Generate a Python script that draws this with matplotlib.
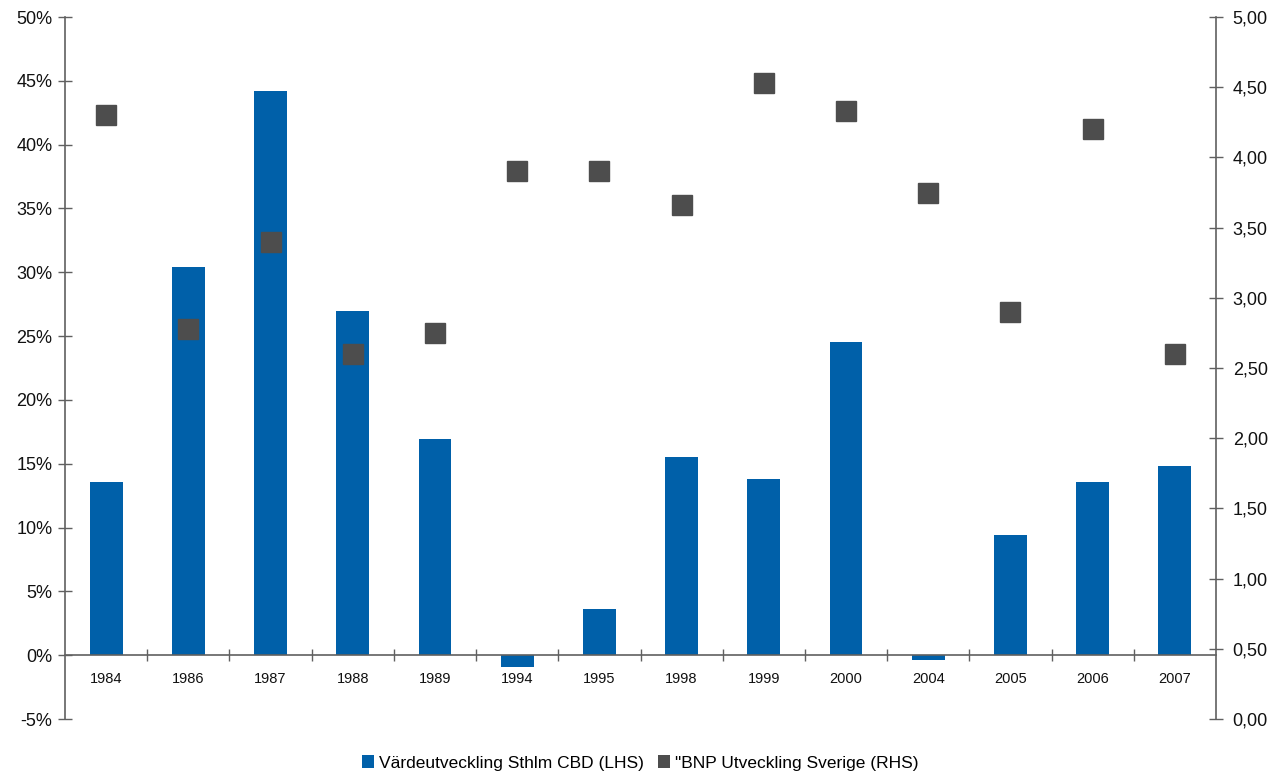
import matplotlib.pyplot as plt
from matplotlib.patches import Patch
from matplotlib.ticker import FuncFormatter, MultipleLocator
import numpy as np

plt.rcParams['font.family'] = ['Liberation Sans', 'DejaVu Sans']

# Årtal och serier
years = ['1984', '1986', '1987', '1988', '1989', '1994', '1995',
         '1998', '1999', '2000', '2004', '2005', '2006', '2007']
vardeutv = [13.6, 30.4, 44.2, 27.0, 16.9, -0.9, 3.6,
            15.5, 13.8, 24.5, -0.4, 9.4, 13.6, 14.8]   # procent
bnp = [4.30, 2.78, 3.40, 2.60, 2.75, 3.90, 3.90,
       3.66, 4.53, 4.33, 3.75, 2.90, 4.20, 2.60]

blue = '#0060A9'
grey = '#4D4D4D'
axis_col = '#606060'
text_col = '#111111'

fig = plt.figure(figsize=(12.82, 7.75), dpi=100)
ax = fig.add_axes([65 / 1282, 1 - 719 / 775, (1216 - 65) / 1282, (719 - 17) / 775])
x = np.arange(len(years))

ax.bar(x, vardeutv, width=0.4, color=blue, zorder=2)
ax.set_xlim(-0.5, len(years) - 0.5)
ax.set_ylim(-5, 50)
ax.yaxis.set_major_locator(MultipleLocator(5))
ax.yaxis.set_major_formatter(FuncFormatter(lambda v, p: f'{v:.0f}%'))

# x-axeln ligger på nollnivån
ax.spines['bottom'].set_position(('data', 0))
ax.spines['top'].set_visible(False)
ax.spines['right'].set_visible(False)
for s in ('bottom', 'left'):
    ax.spines[s].set_color(axis_col)
    ax.spines[s].set_linewidth(1.2)

ax.set_xticks(x)
ax.set_xticklabels(years, fontsize=10.5, color=text_col)
ax.set_xticks(np.arange(0.5, len(years) - 1, 1), minor=True)
ax.tick_params(axis='x', which='major', length=0, pad=12)
ax.tick_params(axis='x', which='minor', direction='inout', length=8, width=1, color=axis_col)
ax.tick_params(axis='y', direction='inout', length=10, width=1, color=axis_col,
               labelsize=13, labelcolor=text_col, pad=4)

# Höger axel för BNP
ax2 = ax.twinx()
ax2.plot(x, bnp, linestyle='none', marker='s', markersize=14, color=grey, zorder=3)
ax2.set_ylim(0, 5)
ax2.yaxis.set_major_locator(MultipleLocator(0.5))
ax2.yaxis.set_major_formatter(FuncFormatter(lambda v, p: f'{v:.2f}'.replace('.', ',')))
for s in ('top', 'left', 'bottom'):
    ax2.spines[s].set_visible(False)
ax2.spines['right'].set_color(axis_col)
ax2.spines['right'].set_linewidth(1.2)
ax2.tick_params(axis='y', direction='inout', length=10, width=1, color=axis_col,
                labelsize=13, labelcolor=text_col, pad=7)

handles = [Patch(facecolor=blue, edgecolor='none'),
           Patch(facecolor=grey, edgecolor='none')]
fig.legend(handles, ['Värdeutveckling Sthlm CBD (LHS)', '"BNP Utveckling Sverige (RHS)'],
           loc='center', bbox_to_anchor=(640 / 1282, 1 - 763 / 775), ncol=2,
           frameon=False, fontsize=12.5, handlelength=0.7, handleheight=0.7,
           handletextpad=0.3, columnspacing=0.8)

fig.savefig('out.png', dpi=100)
